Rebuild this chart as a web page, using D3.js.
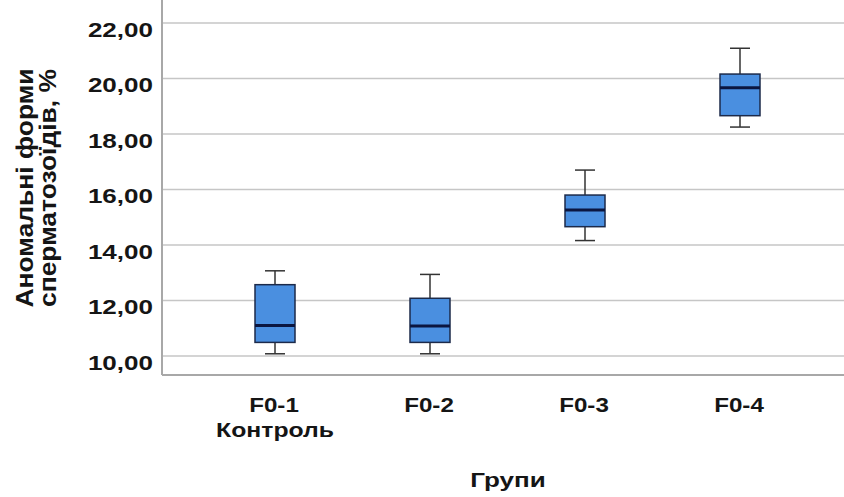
<!DOCTYPE html>
<html>
<head>
<meta charset="utf-8">
<script src="https://cdn.jsdelivr.net/npm/d3@7/dist/d3.min.js"></script>
<style>
  html, body { margin: 0; padding: 0; background: #fff; }
  svg { display: block; }
  text { font-family: "Liberation Sans", Arial, sans-serif; font-weight: bold; fill: #151515; }
</style>
</head>
<body>
<svg id="chart" width="844" height="497"></svg>
<script>
// ---- data ----
const categories = ["F0-1", "F0-2", "F0-3", "F0-4"];
const subLabels = ["Контроль", "", "", ""];
const whiskerLow  = [10.08, 10.08, 14.16, 18.25];
const q1          = [10.49, 10.49, 14.66, 18.66];
const median      = [11.10, 11.08, 15.26, 19.67];
const q3          = [12.57, 12.08, 15.80, 20.16];
const whiskerHigh = [13.07, 12.94, 16.70, 21.09];
const yTicks = [10, 12, 14, 16, 18, 20, 22];
const xTitle = "Групи";
const yTitleLines = ["Аномальні форми", "сперматозоїдів, %"];

// ---- layout ----
const W = 844, H = 497;
const plotLeft = 162, plotRight = 844, plotTop = 0, plotBottom = 375;

const svg = d3.select("#chart");
const locale = d3.formatLocale({decimal: ",", thousands: " ", grouping: [3], currency: ["", ""]});
const fmt = locale.format(".2f");

const y = d3.scaleLinear().domain([10, 22]).range([356, 23]);
const x = d3.scalePoint().domain(categories).range([275, 740]);
const boxW = 40, capW = 20;

// gridlines
svg.append("g").selectAll("line").data(yTicks).join("line")
  .attr("x1", plotLeft).attr("x2", plotRight)
  .attr("y1", d => y(d)).attr("y2", d => y(d))
  .attr("stroke", "#c6c6c6").attr("stroke-width", 1.5);

// axes lines
svg.append("line").attr("x1", plotLeft).attr("x2", plotLeft).attr("y1", plotTop).attr("y2", plotBottom)
  .attr("stroke", "#a8a8a8").attr("stroke-width", 2);
svg.append("line").attr("x1", plotLeft).attr("x2", plotRight).attr("y1", plotBottom).attr("y2", plotBottom)
  .attr("stroke", "#a8a8a8").attr("stroke-width", 2);

// y tick labels via axis
const yAxis = svg.append("g").attr("transform", `translate(${plotLeft},0)`)
  .call(d3.axisLeft(y).tickValues(yTicks).tickFormat(fmt).tickSize(0).tickPadding(9));
yAxis.select(".domain").remove();
yAxis.selectAll("text")
  .attr("font-size", 21).attr("fill", "#151515")
  .attr("dy", null).attr("y", 13)
  .attr("transform", function() { const xx = +d3.select(this).attr("x"); return `translate(${xx},0) scale(1.24,1) translate(${-xx},0)`; });

// x labels
const xl = svg.append("g");
categories.forEach((c, i) => {
  const cx = x(c);
  xl.append("text").attr("text-anchor", "middle").attr("font-size", 21)
    .attr("transform", `translate(${cx - 1},412) scale(1.15,1)`).text(c);
  if (subLabels[i]) {
    xl.append("text").attr("text-anchor", "middle").attr("font-size", 21)
      .attr("transform", `translate(${cx},437) scale(1.18,1)`).text(subLabels[i]);
  }
});

// titles
svg.append("text").attr("text-anchor", "middle").attr("font-size", 21)
  .attr("transform", `translate(508,487) scale(1.24,1)`).text(xTitle);
yTitleLines.forEach((t, i) => {
  svg.append("text").attr("text-anchor", "middle").attr("font-size", 23)
    .attr("transform", `translate(${33 + i * 23},188) rotate(-90) scale(1.15,1)`).text(t);
});

// boxes
const g = svg.append("g");
categories.forEach((c, i) => {
  const cx = x(c);
  // whiskers
  g.append("line").attr("x1", cx).attr("x2", cx).attr("y1", y(whiskerHigh[i])).attr("y2", y(q3[i]))
    .attr("stroke", "#333").attr("stroke-width", 1.5);
  g.append("line").attr("x1", cx).attr("x2", cx).attr("y1", y(q1[i])).attr("y2", y(whiskerLow[i]))
    .attr("stroke", "#333").attr("stroke-width", 1.5);
  g.append("line").attr("x1", cx - capW / 2).attr("x2", cx + capW / 2).attr("y1", y(whiskerHigh[i])).attr("y2", y(whiskerHigh[i]))
    .attr("stroke", "#333").attr("stroke-width", 1.5);
  g.append("line").attr("x1", cx - capW / 2).attr("x2", cx + capW / 2).attr("y1", y(whiskerLow[i])).attr("y2", y(whiskerLow[i]))
    .attr("stroke", "#333").attr("stroke-width", 1.5);
  // box
  g.append("rect").attr("x", cx - boxW / 2).attr("y", y(q3[i]))
    .attr("width", boxW).attr("height", y(q1[i]) - y(q3[i]))
    .attr("fill", "#4a8fe0").attr("stroke", "#1c2a4a").attr("stroke-width", 1.5);
  // median
  g.append("line").attr("x1", cx - boxW / 2).attr("x2", cx + boxW / 2).attr("y1", y(median[i])).attr("y2", y(median[i]))
    .attr("stroke", "#0b1640").attr("stroke-width", 3);
});
</script>
</body>
</html>
